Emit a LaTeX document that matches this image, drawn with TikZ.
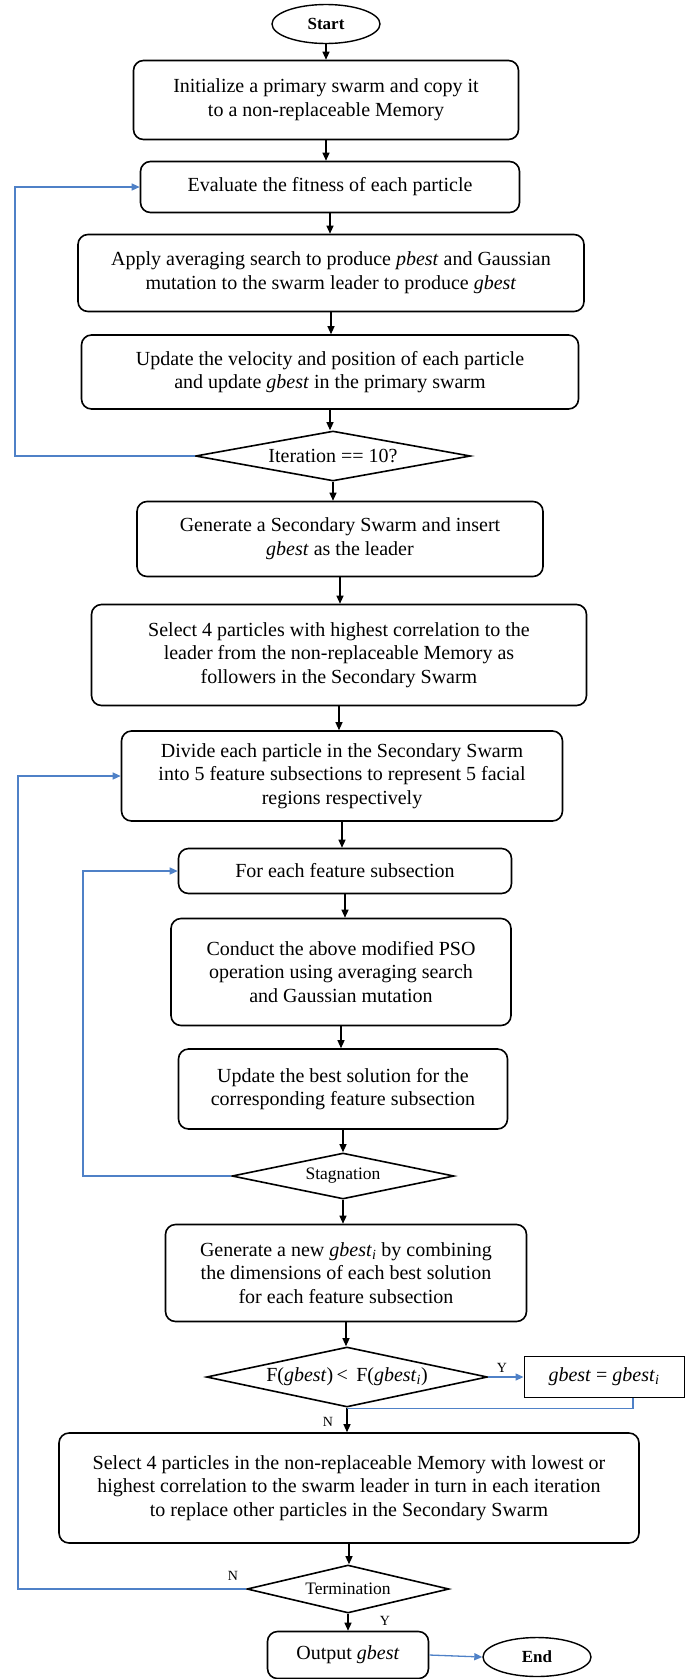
\documentclass[tikz,border=0pt]{standalone}
\usepackage{fontspec}
\setmainfont{Liberation Serif}
\usetikzlibrary{arrows.meta,shapes}
\definecolor{loopblue}{RGB}{79,129,199}
\newcommand{\boxfont}{\fontsize{20}{23.7}\selectfont}
\newcommand{\gbi}{\textit{gbest}\textsubscript{\textit{i}}}
\tikzstyle{process}=[draw,line width=1.6pt,rounded corners=10pt,align=center,inner sep=0pt,font=\boxfont]
\tikzstyle{decision}=[draw,diamond,line width=1.6pt,inner sep=0pt,font=\boxfont]
\tikzstyle{terminal}=[draw,ellipse,line width=1.4pt,minimum width=108pt,minimum height=39pt,font=\fontsize{17}{20}\selectfont\bfseries]
\tikzstyle{flow}=[draw,line width=1.2pt,-{Triangle[length=8pt,width=7pt]}]
\tikzstyle{loopback}=[draw,loopblue,line width=1.3pt,-{Triangle[length=8pt,width=7pt]}]
\tikzstyle{tag}=[font=\fontsize{14}{16}\selectfont,inner sep=0pt]

\begin{document}
\begin{tikzpicture}[x=1pt,y=-1pt]
  \useasboundingbox (0,0) rectangle (686,1679);
  \node[terminal] (start) at (326,24) {Start};
  \node[process,minimum width=385pt,minimum height=79pt] (init) at (326,100)
    {Initialize a primary swarm and copy it\\to a non-replaceable Memory};
  \node[process,minimum width=379pt,minimum height=51pt] (eval) at (330,187)
    {Evaluate the fitness of each particle};
  \node[process,minimum width=506pt,minimum height=77pt] (apply) at (331,273)
    {Apply averaging search to produce \textit{pbest} and Gaussian\\mutation to the swarm leader to produce \textit{gbest}};
  \node[process,minimum width=497pt,minimum height=74pt] (update) at (330,372)
    {Update the velocity and position of each particle\\and update \textit{gbest} in the primary swarm};
  \node[decision,aspect=5.5,minimum width=275pt,minimum height=50pt] (iter) at (333,456)
    {Iteration == 10?};
  \node[process,minimum width=406pt,minimum height=75pt] (second) at (340,539)
    {Generate a Secondary Swarm and insert\\\textit{gbest} as the leader};
  \node[process,minimum width=495pt,minimum height=101pt] (follow) at (339,655)
    {Select 4 particles with highest correlation to the\\leader from the non-replaceable Memory as\\followers in the Secondary Swarm};
  \node[process,minimum width=441pt,minimum height=90pt] (divide) at (342,776)
    {Divide each particle in the Secondary Swarm\\into 5 feature subsections to represent 5 facial\\regions respectively};
  \node[process,minimum width=333pt,minimum height=45pt] (each) at (345,871)
    {For each feature subsection};
  \node[process,minimum width=340pt,minimum height=107pt] (pso) at (341,972)
    {Conduct the above modified PSO\\operation using averaging search\\and Gaussian mutation};
  \node[process,minimum width=329pt,minimum height=80pt] (best) at (343,1089)
    {Update the best solution for the\\corresponding feature subsection};
  \node[decision,aspect=4.8,minimum width=222pt,minimum height=46pt,font=\fontsize{17.5}{20}\selectfont] (stag) at (343,1176)
    {Stagnation};
  \node[process,minimum width=361pt,minimum height=97pt] (combine) at (346,1273)
    {Generate a new \gbi{} by combining\\the dimensions of each best solution\\for each feature subsection};
  \node[decision,aspect=4.7,minimum width=281pt,minimum height=60pt] (cmp) at (347,1377)
    {F(\textit{gbest})\,<\, F(\gbi)};
  \node[draw,line width=0.9pt,minimum width=160pt,minimum height=41pt,font=\boxfont] (swap) at (604,1377)
    {\textit{gbest} = \gbi};
  \node[process,minimum width=580pt,minimum height=110pt] (replace) at (349,1488)
    {Select 4 particles in the non-replaceable Memory with lowest or\\highest correlation to the swarm leader in turn in each iteration\\to replace other particles in the Secondary Swarm};
  \node[decision,aspect=4.2,minimum width=202pt,minimum height=48pt,font=\fontsize{17.5}{20}\selectfont] (term) at (348,1589)
    {Termination};
  \node[process,minimum width=161pt,minimum height=47pt] (output) at (348,1655)
    {Output \textit{gbest}};
  \node[terminal] (end) at (537,1657) {End};

  % main flow
  \foreach \a/\b in {start/init,init/eval,eval/apply,apply/update,update/iter,
      iter/second,second/follow,follow/divide,divide/each,each/pso,pso/best,
      best/stag,stag/combine,combine/cmp,cmp/replace,replace/term,term/output}{
    \path[flow] (\a) -- (\a |- \b.north);
  }

  % loops back
  \coordinate (outerA) at (15,0);
  \coordinate (outerB) at (18,0);
  \coordinate (inner) at (83,0);
  \path[loopback] (iter.west) -- (iter.west -| outerA) |- (eval.west);
  \path[loopback] (term.west) -- (term.west -| outerB) |- (divide.west);
  \path[loopback] (stag.west) -- (stag.west -| inner) |- (each.west);
  \path[loopback] (cmp.east) -- (swap.west);
  \draw[loopblue,line width=1.3pt] ([xshift=29pt]swap.south) |- ([yshift=-1pt]cmp.south);
  \path[loopback] (output.east) -- (end.west);

  \node[tag] (y1) at (502,1368) {Y};
  \node[tag] (n1) at (328,1422) {N};
  \node[tag] (n2) at (233,1576) {N};
  \node[tag] (y2) at (385,1621) {Y};
\end{tikzpicture}
\end{document}
